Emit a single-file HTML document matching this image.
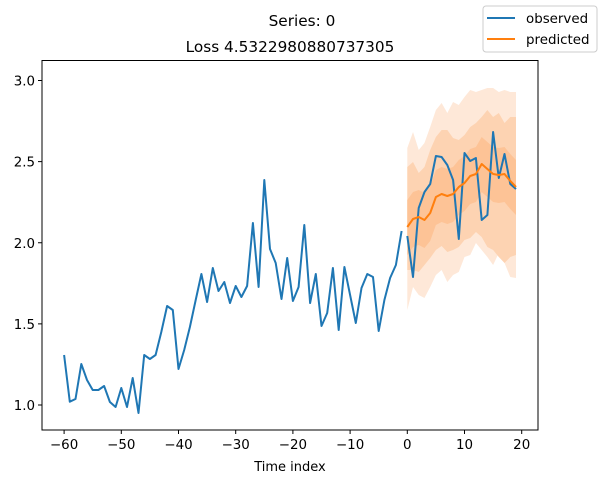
<!DOCTYPE html>
<html><head><meta charset="utf-8"><style>
body{margin:0;background:#fff;width:604px;height:483px;overflow:hidden}
svg text{font-family:"DejaVu Sans","Liberation Sans",sans-serif;fill:#000}
</style></head><body>
<svg id="s" width="604" height="483" xmlns="http://www.w3.org/2000/svg">
<g id="bands"></g>
<polyline id="obs" fill="none" stroke="#1f77b4" stroke-width="2" stroke-linejoin="round"/>
<polyline id="obs2" fill="none" stroke="#1f77b4" stroke-width="2" stroke-linejoin="round"/>
<polyline id="pred" fill="none" stroke="#ff7f0e" stroke-width="2" stroke-linejoin="round"/>
<rect x="42" y="60.5" width="496" height="369.5" fill="none" stroke="#000" stroke-width="1"/>
<g id="ticks" stroke="#000" stroke-width="1"></g>
<g id="labels" font-size="13.4"></g>
<text x="302" y="26" font-size="15.3" text-anchor="middle">Series: 0</text>
<text x="290" y="52" font-size="15.3" text-anchor="middle">Loss 4.5322980880737305</text>
<text x="290" y="471" font-size="13" text-anchor="middle">Time index</text>
<rect x="483" y="6" width="114" height="46" rx="3" fill="#fff" stroke="#ccc"/>
<line x1="487" y1="18" x2="515" y2="18" stroke="#1f77b4" stroke-width="2"/>
<line x1="487" y1="39" x2="515" y2="39" stroke="#ff7f0e" stroke-width="2"/>
<text x="526" y="23" font-size="13.4">observed</text>
<text x="526" y="44" font-size="13.4">predicted</text>
</svg>
<script>
var X=t=>407.3+5.72*t;
var obsY=[355,401.7,399,364,380,390,390,386,402,407,388,407,378,413,355,359,355,332,306,310,369,350,327,300,274,302,268,291,282,303,286,297,286,223,287,180,249,263,299,258,301,287,225,303,274,326,313,268,330,267,295,323,288,274,277,331,300,278,265,231];
var obs2=[236,277,208,192,184,156,157,165,180,239,153,161,158,220,215,132,178,154,184,189];
var pred=[227,219,217,220,213,197,194,196,194,187,183,176,174,164,169,174,175,174,181,187];
var oU=[148,132,150,143,127,110,103,113,102,105,97,90,92,90,88,88,92,90,92,92];
var oL=[310,287,295,298,287,275,270,282,275,272,257,255,243,250,257,265,253,263,277,278];
var mU=[167,162,173,167,150,137,130,130,138,140,135,127,123,117,110,117,113,123,117,117];
var mL=[270,270,272,265,258,250,246,252,250,247,240,238,232,237,247,250,257,263,257,255];
function pts(a,off){return a.map((y,i)=>X(i+off).toFixed(1)+","+y).join(" ");}
document.getElementById("obs").setAttribute("points",pts(obsY,-60));
document.getElementById("obs2").setAttribute("points",pts(obs2,0));
document.getElementById("pred").setAttribute("points",pts(pred,0));
var b=document.getElementById("bands"),ns="http://www.w3.org/2000/svg";
function band(u,l,c){var p=document.createElementNS(ns,"polygon");
var s=u.map((y,i)=>X(i)+","+y).join(" ")+" "+l.map((y,i)=>X(i)+","+y).reverse().join(" ");
p.setAttribute("points",s);p.setAttribute("fill",c);b.appendChild(p);}
band(oU,oL,"#fee8d8");
band(mU,mL,"#fdd3b2");
band(pred.map(v=>v-27),pred.map(v=>v+28),"#fdc396");
var tk=document.getElementById("ticks"),lb=document.getElementById("labels");
function add(tag,at,par,txt){var e=document.createElementNS(ns,tag);for(var k in at)e.setAttribute(k,at[k]);if(txt)e.textContent=txt;par.appendChild(e);}
for(var t=-60;t<=20;t+=10){var x=X(t);add("line",{x1:x,y1:430,x2:x,y2:434},tk);
add("text",{x:x,y:449,"text-anchor":"middle"},lb,(t<0?"\u2212"+(-t):""+t));}
[1.0,1.5,2.0,2.5,3.0].forEach(v=>{var y=405-(v-1)*162.25;add("line",{x1:38,y1:y,x2:42,y2:y},tk);
add("text",{x:35,y:y+5,"text-anchor":"end"},lb,v.toFixed(1));});
</script>
</body></html>
